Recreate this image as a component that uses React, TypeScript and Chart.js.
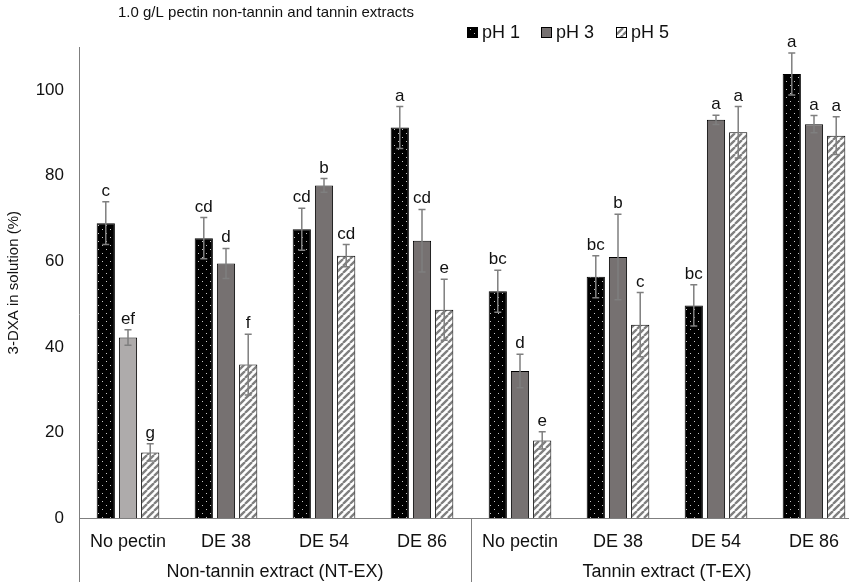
import React, { useEffect, useRef } from 'react';
import { Chart, registerables } from 'chart.js';
Chart.register(...registerables);

const categories = ['No pectin', 'DE 38', 'DE 54', 'DE 86', 'No pectin', 'DE 38', 'DE 54', 'DE 86'];
const groupLabels = ['Non-tannin extract (NT-EX)', 'Tannin extract (T-EX)'];
const seriesNames = ['pH 1', 'pH 3', 'pH 5'];
const chartTitle = '1.0 g/L pectin non-tannin and tannin extracts';
const yTitle = '3-DXA in solution (%)';

const ph1 = [68.9, 65.4, 67.5, 91.2, 53.0, 56.4, 49.7, 103.7];
const ph3 = [42.2, 59.5, 77.7, 64.8, 34.4, 61.0, 93.0, 92.0];
const ph5 = [15.4, 35.9, 61.3, 48.7, 18.2, 45.2, 90.1, 89.3];
const ph1Err = [5.0, 4.8, 4.9, 4.9, 4.9, 4.9, 4.8, 4.9];
const ph3Err = [1.8, 3.5, 1.6, 7.3, 3.9, 10.0, 1.1, 2.0];
const ph5Err = [2.0, 7.1, 2.6, 7.1, 2.0, 7.5, 6.0, 4.4];
const ph1Letters = ['c', 'cd', 'cd', 'a', 'bc', 'bc', 'bc', 'a'];
const ph3Letters = ['ef', 'd', 'b', 'cd', 'd', 'b', 'a', 'a'];
const ph5Letters = ['g', 'f', 'cd', 'e', 'e', 'c', 'a', 'a'];

const FONT = '"Liberation Sans", Arial, sans-serif';
const TEXT = '#111';
const AXIS = '#7f7f7f';
const DARK_GREY = '#767171';
const LIGHT_GREY = '#aeabab';

function makeDots(): CanvasPattern | string {
  const c = document.createElement('canvas');
  c.width = 8; c.height = 8;
  const g = c.getContext('2d');
  if (!g) return '#000';
  g.fillStyle = '#000';
  g.fillRect(0, 0, 8, 8);
  g.fillStyle = '#c8c8c8';
  g.fillRect(2, 1, 1, 1);
  g.fillRect(6, 5, 1, 1);
  return g.createPattern(c, 'repeat') || '#000';
}

function makeStripes(): CanvasPattern | string {
  const s = 7;
  const c = document.createElement('canvas');
  c.width = s; c.height = s;
  const g = c.getContext('2d');
  if (!g) return '#fff';
  g.fillStyle = '#fff';
  g.fillRect(0, 0, s, s);
  g.strokeStyle = '#7f7f7f';
  g.lineWidth = 2.3;
  g.beginPath();
  for (const x0 of [-s, 0, s]) {
    g.moveTo(x0, s);
    g.lineTo(x0 + s, 0);
  }
  g.stroke();
  return g.createPattern(c, 'repeat') || '#fff';
}

export default function App() {
  const ref = useRef<HTMLCanvasElement | null>(null);

  useEffect(() => {
    const canvas = ref.current;
    if (!canvas) return;
    const dots = makeDots();
    const stripes = makeStripes();
    const ph3Colors = categories.map((_, i) => (i === 0 ? LIGHT_GREY : DARK_GREY));
    const errs = [ph1Err, ph3Err, ph5Err];
    const letters = [ph1Letters, ph3Letters, ph5Letters];
    const legendFills: (CanvasPattern | string)[] = [dots, DARK_GREY, stripes];

    const decor = {
      id: 'decor',
      afterDatasetsDraw(chart: any) {
        const ctx = chart.ctx as CanvasRenderingContext2D;
        const y = chart.scales.y;
        ctx.save();
        chart.data.datasets.forEach((ds: any, di: number) => {
          const meta = chart.getDatasetMeta(di);
          meta.data.forEach((el: any, i: number) => {
            const v = ds.data[i] as number;
            const e = errs[di][i];
            const yt = y.getPixelForValue(v + e);
            const yb = y.getPixelForValue(v - e);
            const x = el.x;
            ctx.strokeStyle = AXIS;
            ctx.lineWidth = 1.5;
            ctx.beginPath();
            ctx.moveTo(x, yt); ctx.lineTo(x, yb);
            ctx.moveTo(x - 3.5, yt); ctx.lineTo(x + 3.5, yt);
            ctx.moveTo(x - 3.5, yb); ctx.lineTo(x + 3.5, yb);
            ctx.stroke();
            ctx.fillStyle = TEXT;
            ctx.font = `17px ${FONT}`;
            ctx.textAlign = 'center';
            ctx.textBaseline = 'alphabetic';
            ctx.fillText(letters[di][i], x, yt - 6);
          });
        });
        ctx.restore();
      },
      afterDraw(chart: any) {
        const ctx = chart.ctx as CanvasRenderingContext2D;
        const { left, right, top, bottom } = chart.chartArea;
        const H = chart.height;
        const catW = (right - left) / categories.length;
        ctx.save();
        ctx.strokeStyle = AXIS;
        ctx.lineWidth = 1;
        ctx.beginPath();
        ctx.moveTo(left + 0.5, top);
        ctx.lineTo(left + 0.5, H);
        ctx.moveTo(left, Math.round(bottom) + 0.5);
        ctx.lineTo(right, Math.round(bottom) + 0.5);
        const mid = left + catW * 4;
        ctx.moveTo(Math.round(mid) + 0.5, bottom);
        ctx.lineTo(Math.round(mid) + 0.5, H);
        ctx.moveTo(Math.round(right) + 0.5, bottom);
        ctx.lineTo(Math.round(right) + 0.5, H);
        ctx.stroke();
        ctx.fillStyle = TEXT;
        ctx.font = `18px ${FONT}`;
        ctx.textAlign = 'center';
        ctx.textBaseline = 'middle';
        ctx.fillText(groupLabels[0], (left + mid) / 2, 572);
        ctx.fillText(groupLabels[1], (mid + right) / 2, 572);
        ctx.font = `15px ${FONT}`;
        ctx.textAlign = 'left';
        ctx.fillText(chartTitle, 118, 13);
        ctx.font = `18px ${FONT}`;
        const lx = [467, 541, 616];
        seriesNames.forEach((name, k) => {
          ctx.fillStyle = legendFills[k] as any;
          ctx.fillRect(lx[k], 27, 10, 10);
          ctx.strokeStyle = '#000';
          ctx.lineWidth = 1;
          ctx.strokeRect(lx[k] + 0.5, 27.5, 10, 10);
          ctx.fillStyle = TEXT;
          ctx.textAlign = 'left';
          ctx.fillText(name, lx[k] + 15, 33);
        });
        ctx.restore();
      },
    };

    const chart = new Chart(canvas, {
      type: 'bar',
      data: {
        labels: categories,
        datasets: [
          { label: seriesNames[0], data: ph1, backgroundColor: dots as any, borderColor: '#000', borderWidth: 1 },
          { label: seriesNames[1], data: ph3, backgroundColor: ph3Colors, borderColor: '#000', borderWidth: 1 },
          { label: seriesNames[2], data: ph5, backgroundColor: stripes as any, borderColor: '#000', borderWidth: 1 },
        ],
      },
      options: {
        responsive: false,
        animation: false,
        devicePixelRatio: 1,
        layout: { padding: { left: 0, right: 17, top: 47, bottom: 16 } },
        datasets: { bar: { categoryPercentage: 0.68, barPercentage: 0.82 } },
        plugins: { legend: { display: false }, tooltip: { enabled: false }, title: { display: false } },
        scales: {
          x: {
            grid: { display: false, drawTicks: false },
            border: { display: false },
            ticks: { font: { family: FONT, size: 18 }, color: TEXT, padding: 13, maxRotation: 0, autoSkip: false },
          },
          y: {
            min: 0,
            max: 110,
            grid: { display: false, drawTicks: false },
            border: { display: false },
            ticks: {
              stepSize: 20,
              padding: 15,
              font: { family: FONT, size: 17 },
              color: TEXT,
              callback: (v: any) => (Number(v) % 20 === 0 ? String(v) : ''),
            },
            title: { display: true, text: yTitle, font: { family: FONT, size: 15 }, color: TEXT, padding: { top: 5, bottom: 4 } },
            afterFit: (s: any) => { s.width = 79; },
          },
        },
      },
      plugins: [decor],
    } as any);
    return () => chart.destroy();
  }, []);

  return (
    <div style={{ position: 'fixed', left: 0, top: 0, width: 849, height: 582, overflow: 'hidden', background: '#fff' }}>
      <canvas ref={ref} width={880} height={582} style={{ display: 'block' }} />
    </div>
  );
}
